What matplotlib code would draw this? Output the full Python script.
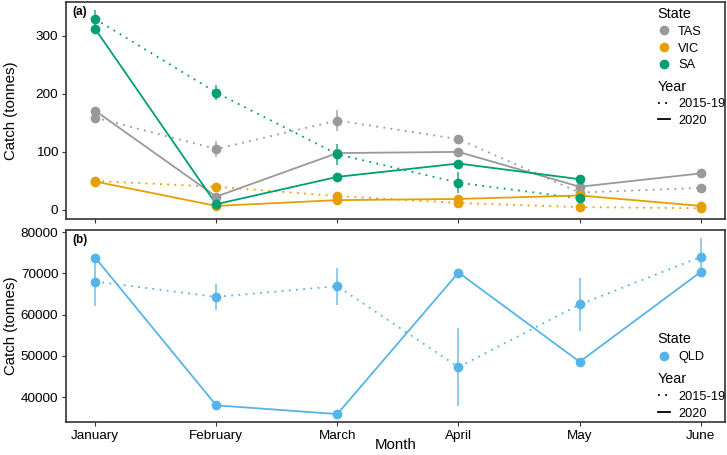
import numpy as np
import matplotlib.pyplot as plt
from matplotlib.lines import Line2D

plt.rcParams['font.family'] = ['Liberation Sans', 'DejaVu Sans']

months = ["January", "February", "March", "April", "May", "June"]

# panel (a) - catch in tonnes, NaN = no data
tas_2020 = [171, 23, 98, 100, 40, 63]
tas_hist = [159, 105, 154, 122, 30, 38]
tas_err = [10, 13, 18, 5, 5, 3]
vic_2020 = [49, 7, 17, 19, 25, 7]
vic_hist = [50, 40, 24, 12, 5, 3]
vic_err = [3, 3, 3, 3, 2, 2]
sa_2020 = [312, 10, 57, 80, 53, np.nan]
sa_hist = [329, 202, 96, 47, 20, np.nan]
sa_err = [16, 13, 18, 18, 5, np.nan]

# panel (b)
qld_2020 = [73830, 37990, 35880, 70190, 48550, 70340]
qld_hist = [68010, 64290, 66880, 47260, 62440, 73970]
qld_err = [5900, 3200, 4500, 9500, 6400, 4600]

colors = {"TAS": "#999999", "VIC": "#E69F00", "SA": "#009E73", "QLD": "#56B4E9"}

x = np.arange(len(months))

fig = plt.figure(figsize=(7.27, 4.55), dpi=100)
ax1 = fig.add_axes([66/727, 1 - 219/455, 659/727, 217/455])
ax2 = fig.add_axes([66/727, 1 - 422/455, 659/727, 192/455])


def draw(ax, name, v2020, vhist, err):
    c = colors[name]
    ax.errorbar(x, vhist, yerr=err, fmt='none', ecolor=c, elinewidth=1.2, alpha=0.8, zorder=2)
    ax.plot(x, vhist, linestyle=(0, (1, 3)), color=c, lw=1.3, zorder=2)
    ax.plot(x, v2020, linestyle='-', color=c, lw=1.3, zorder=3)
    ax.plot(x, vhist, 'o', color=c, ms=7, mec='none', zorder=4)
    ax.plot(x, v2020, 'o', color=c, ms=7, mec='none', zorder=4)


draw(ax1, "TAS", tas_2020, tas_hist, tas_err)
draw(ax1, "VIC", vic_2020, vic_hist, vic_err)
draw(ax1, "SA", sa_2020, sa_hist, sa_err)
draw(ax2, "QLD", qld_2020, qld_hist, qld_err)

ax1.set_ylim(-15.5, 358)
ax1.set_yticks([0, 100, 200, 300])
ax2.set_ylim(33950, 80500)
ax2.set_yticks([40000, 50000, 60000, 70000, 80000])

for ax in (ax1, ax2):
    ax.set_xlim(-0.24, 5.2)
    ax.set_xticks(x)
    for s in ax.spines.values():
        s.set_color("#333333")
        s.set_linewidth(1.2)
    ax.tick_params(axis='both', length=3, width=0.8, color="#333333", labelsize=9.7,
                   labelcolor='black', pad=2.5)
    ax.set_ylabel("Catch (tonnes)", fontsize=10.8)
    ax.yaxis.set_label_coords(-0.073, 0.5)

ax1.set_xticklabels([])
ax2.set_xticklabels(months)
ax2.set_xlabel("Month", fontsize=10.8)
ax2.xaxis.set_label_coords(0.5, -0.085)

ax1.text(0.009, 0.94, "(a)", transform=ax1.transAxes, fontweight='bold', fontsize=8.5)
ax2.text(0.009, 0.93, "(b)", transform=ax2.transAxes, fontweight='bold', fontsize=8.5)


def state_legend(ax, states, anchor):
    h1 = [Line2D([], [], marker='o', ls='none', color=colors[s], ms=7, mec='none') for s in states]
    leg1 = ax.legend(h1, states, title="State", loc='upper left', bbox_to_anchor=anchor, frameon=False,
                     fontsize=9.2, title_fontsize=10.4, alignment='left', handlelength=1.0,
                     handletextpad=0.6, labelspacing=0.36, borderpad=0)
    ax.add_artist(leg1)
    return leg1


def year_legend(ax, anchor):
    h2 = [Line2D([], [], ls=(0, (1, 3)), color='black', lw=1.3),
          Line2D([], [], ls='-', color='black', lw=1.3)]
    leg2 = ax.legend(h2, ["2015-19", "2020"], title="Year", loc='upper left', bbox_to_anchor=anchor,
                     frameon=False, fontsize=9.2, title_fontsize=10.4, alignment='left', handlelength=1.0,
                     handletextpad=0.6, labelspacing=0.36, borderpad=0)
    return leg2


state_legend(ax1, ["TAS", "VIC", "SA"], (0.888, 1.005))
year_legend(ax1, (0.888, 0.672))
state_legend(ax2, ["QLD"], (0.888, 0.5))
year_legend(ax2, (0.888, 0.292))

fig.savefig("out.png", dpi=100)
